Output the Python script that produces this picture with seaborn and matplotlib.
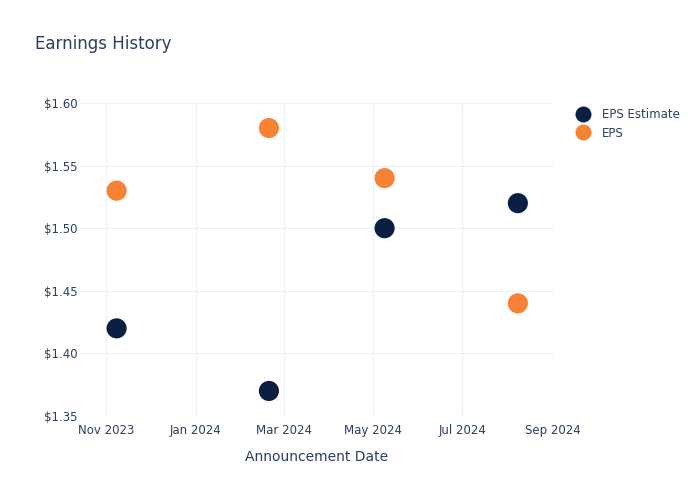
import matplotlib
matplotlib.use("Agg")
import matplotlib.pyplot as plt
import matplotlib.dates as mdates
import matplotlib.ticker as mticker
from matplotlib.lines import Line2D
import seaborn as sns
import pandas as pd

dates = ["2023-11-08", "2024-02-20", "2024-05-09", "2024-08-08"]
eps_estimate = [1.42, 1.37, 1.50, 1.52]
eps_actual = [1.53, 1.58, 1.54, 1.44]
series_names = ["EPS Estimate", "EPS"]
colors = ["#0b1f42", "#f58235"]

df = pd.DataFrame({
    "date": pd.to_datetime(dates * 2),
    "value": eps_estimate + eps_actual,
    "series": [series_names[0]] * 4 + [series_names[1]] * 4,
})

sns.set_theme(style="white")
plt.rcParams['font.family'] = ['DejaVu Sans']
text_color = "#2a3f5f"
grid_color = "#eef2f8"

fig = plt.figure(figsize=(7, 5), dpi=100)
ax = fig.add_axes([80/700, 84/500, (553-80)/700, (416-103)/500])

sns.scatterplot(data=df, x="date", y="value", hue="series", palette=colors,
                hue_order=series_names, s=210, linewidth=0,
                ax=ax, legend=False, zorder=3)

ax.set_xlim(pd.Timestamp("2023-10-14"), pd.Timestamp("2024-09-01"))
ax.set_ylim(1.35, 1.60)
ax.xaxis.set_major_locator(mdates.MonthLocator(bymonth=[1, 3, 5, 7, 9, 11]))
ax.xaxis.set_major_formatter(mdates.DateFormatter("%b %Y"))
ax.yaxis.set_major_locator(mticker.MultipleLocator(0.05))
ax.yaxis.set_major_formatter(mticker.FuncFormatter(lambda v, p: f"${v:.2f}"))

ax.grid(True, color=grid_color, linewidth=1)
for s in ax.spines.values():
    s.set_visible(False)
ax.tick_params(axis="both", colors=text_color, labelsize=8.5, length=0)
ax.tick_params(axis="y", pad=2)
ax.tick_params(axis="x", pad=6)
ax.set_xlabel("Announcement Date", color=text_color, fontsize=10, labelpad=9)
ax.set_ylabel("")

fig.text(35/700, 1 - 44/500, "Earnings History", color=text_color, fontsize=12,
         va="center", ha="left")

handles = [Line2D([], [], marker="o", linestyle="", markersize=11.5,
                  markerfacecolor=c, markeredgewidth=0)
           for c in colors]
fig.legend(handles, series_names, loc="upper left", bbox_to_anchor=(571/700, 1 - 103/500),
           frameon=False, fontsize=8.5, labelcolor=text_color, handletextpad=1.05,
           labelspacing=0.5, borderaxespad=0, handlelength=1.2)

fig.savefig("out.png", dpi=100)
